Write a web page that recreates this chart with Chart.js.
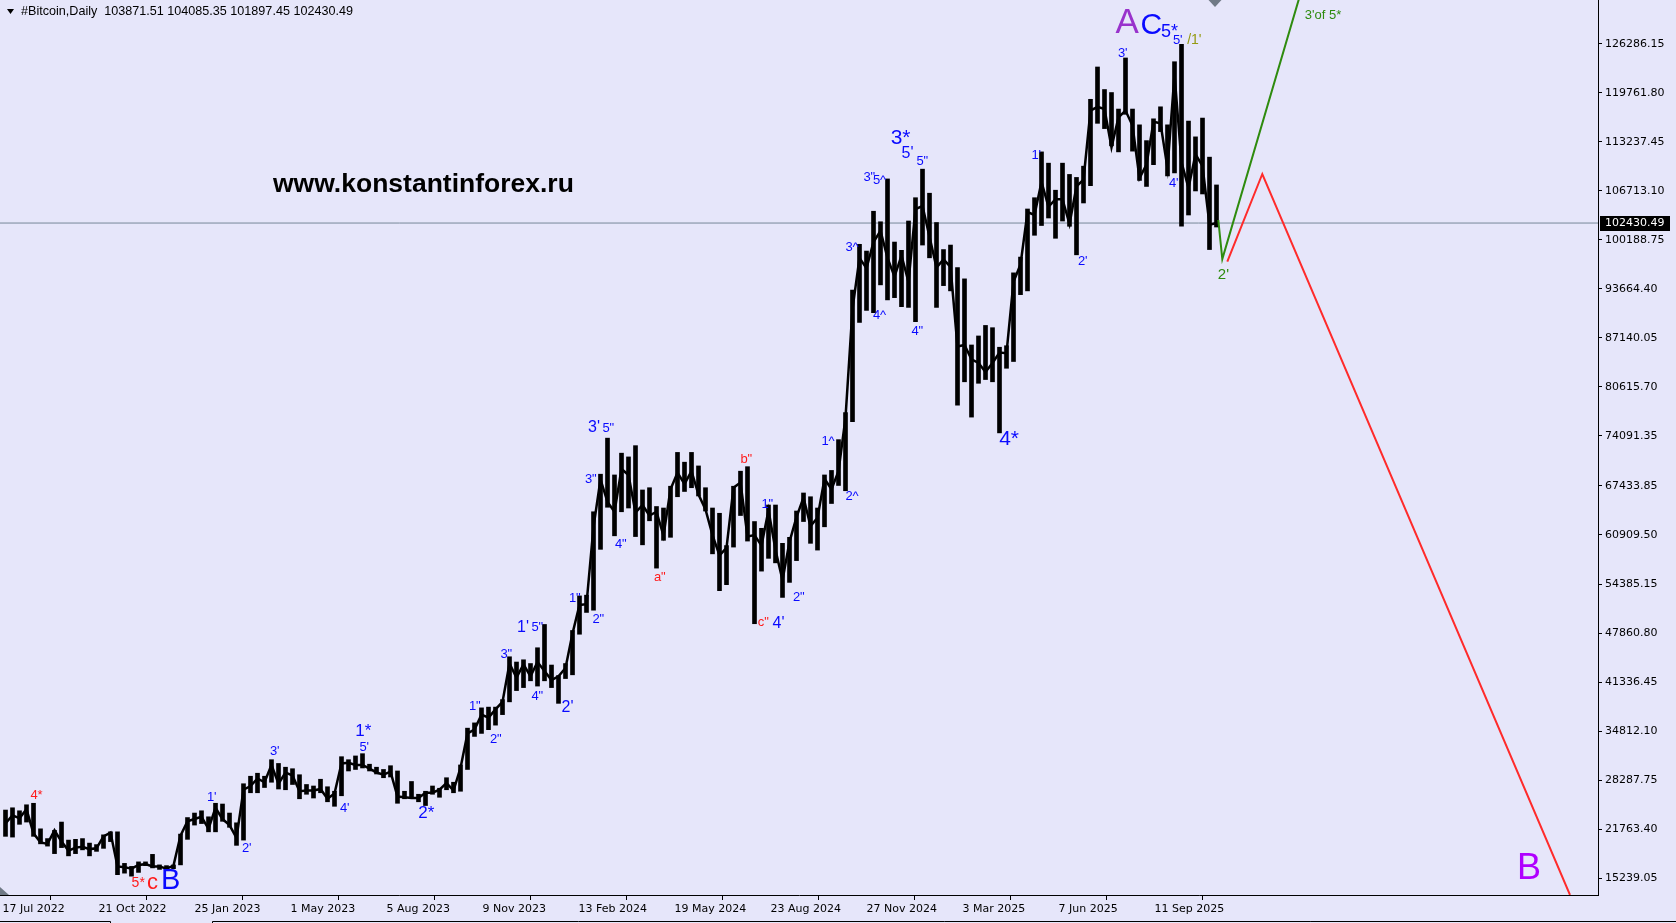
<!DOCTYPE html>
<html>
<head>
<meta charset="utf-8">
<script src="https://cdn.jsdelivr.net/npm/chart.js@4.4.1/dist/chart.umd.min.js"></script>
<style>
    html, body { margin: 0; padding: 0; background: #e6e6fa; overflow: hidden; }
    canvas { display: block; }
</style>
</head>
<body>
<canvas id="myChart" width="1676" height="923"></canvas>
<script>
// weekly ranges of the daily BTC bars, week 0 starts 17 Jul 2022 (day 0)
var weekLow = [
    20800, 20700, 22400, 22700, 20800, 19800, 19500, 18500, 19300, 18200,
    18500, 19000, 18200, 18800, 19200, 20100, 15700, 15900, 15500, 16000,
    16900, 16600, 16400, 16400, 16500, 17000, 20400, 22300, 22500, 21400,
    21400, 22800, 22000, 19600, 20300, 26600, 26600, 27300, 28000, 27100,
    27000, 27700, 25800, 26400, 25900, 26600, 25400, 24800, 26200, 29500,
    29700, 29900, 29500, 29100, 28600, 28700, 25200, 25800, 25900, 25400,
    24900, 26400, 26000, 27000, 26600, 26800, 29700, 34100, 34500, 35000,
    35600, 37000, 38700, 40200, 40600, 41500, 40800, 41500, 40600, 38500,
    41800, 42300, 47700, 50600, 50900, 59000, 64600, 60800, 64000, 64500,
    60700, 59600, 62800, 56500, 60200, 60600, 66000, 66700, 67200, 66100,
    64100, 58400, 53500, 54300, 59300, 63500, 60100, 49100, 56100, 57800,
    57200, 52600, 54600, 57500, 62700, 59800, 58900, 62000, 65100, 67500,
    66800, 76000, 89200, 90800, 90500, 94200, 92200, 92500, 91300, 91200,
    89300, 99500, 97800, 91200, 94100, 93400, 78200, 81300, 76600, 81100,
    81600, 81300, 74500, 83100, 84000, 92900, 93400, 100800, 102100, 103100,
    100400, 102700, 102000, 98200, 105100, 107400, 115700, 115000, 112700, 111900,
    116900, 112000, 108100, 107300, 110200, 114600, 108700, 109100, 102000, 103500,
    106700, 106300, 98900, 101900
];
var weekHigh = [
    24300, 24600, 24200, 25000, 25200, 21800, 20500, 21600, 22700, 20300,
    20400, 20500, 19900, 19700, 21000, 21400, 21400, 17200, 16800, 17400,
    17400, 18400, 17000, 16900, 17000, 21100, 23300, 23900, 24200, 23400,
    25200, 25100, 23900, 22600, 27800, 28800, 29200, 28800, 31000, 30500,
    30000, 29800, 29000, 27700, 27500, 28400, 27400, 26800, 31400, 31000,
    31500, 31800, 30400, 30000, 29700, 30200, 29500, 26800, 28100, 26400,
    26800, 27500, 27200, 28600, 28000, 30300, 35200, 35900, 37900, 38000,
    38000, 39000, 44700, 44000, 44300, 43800, 45900, 49000, 43600, 42200,
    43800, 48200, 52800, 52900, 64000, 69000, 73800, 68900, 71800, 71300,
    72800, 66900, 67200, 64700, 64500, 67400, 71900, 70600, 71900, 70100,
    67200, 64500, 63800, 59500, 67400, 69400, 70000, 62700, 61800, 64900,
    64900, 59800, 60600, 64100, 66500, 66000, 64500, 68900, 69500, 73600,
    77200, 93500, 99600, 98700, 104000, 102600, 108300, 99900, 98800, 102700,
    105800, 109600, 106400, 102500, 98900, 99500, 96500, 95000, 86200, 87400,
    88800, 88500, 85900, 86100, 95800, 97900, 104300, 105800, 111900, 110400,
    106800, 110400, 108900, 108500, 110000, 118900, 123200, 120200, 119800, 117600,
    124400, 117600, 115500, 113400, 116300, 117900, 115500, 123900, 126200, 116000,
    113900, 116400, 111200, 107500
];
var weekClose = [
    22500, 23600, 23200, 24400, 21200, 20000, 19800, 21600, 20100, 18900,
    19300, 19400, 19100, 19200, 20800, 21300, 16800, 16700, 16500, 17000,
    17100, 16800, 16800, 16500, 16900, 20900, 22800, 23100, 23400, 21800,
    24600, 23100, 22300, 20600, 27000, 27500, 28500, 28000, 30300, 27800,
    29300, 28900, 26800, 26900, 26900, 27100, 25800, 26500, 30500, 30600,
    30300, 30300, 29800, 29300, 29000, 29400, 26100, 26000, 25900, 25900,
    26600, 26600, 27000, 27900, 26900, 29900, 34500, 35000, 37000, 36600,
    37700, 38700, 43800, 41900, 43700, 42100, 44000, 42800, 41600, 42100,
    43200, 47800, 51600, 51700, 62000, 68300, 65300, 64000, 69700, 68900,
    63900, 64900, 63500, 64000, 60800, 67000, 69200, 67700, 69400, 66300,
    64300, 60900, 58200, 59200, 67200, 67900, 60700, 60900, 59500, 64200,
    58900, 54900, 60000, 63300, 65900, 62100, 63200, 68400, 67000, 69400,
    76500, 91000, 97800, 96400, 99900, 101400, 97800, 95300, 98100, 94600,
    104300, 104700, 100600, 96500, 97600, 96600, 86000, 86200, 84300, 83800,
    82600, 83800, 85200, 85100, 94600, 96900, 103900, 103500, 107900, 104600,
    105600, 105600, 102300, 107300, 108200, 117400, 117900, 117600, 112500, 116500,
    117400, 115400, 108400, 110200, 115900, 115700, 109700, 122200, 110500, 107100,
    111600, 110000, 102200, 102430
];

var dateLabels = ['17 Jul 2022', '21 Oct 2022', '25 Jan 2023', '1 May 2023', '5 Aug 2023',
    '9 Nov 2023', '13 Feb 2024', '19 May 2024', '23 Aug 2024', '27 Nov 2024',
    '3 Mar 2025', '7 Jun 2025', '11 Sep 2025'];
var priceTicks = [126286.15, 119761.80, 113237.45, 106713.10, 100188.75, 93664.40,
    87140.05, 80615.70, 74091.35, 67433.85, 60909.50, 54385.15, 47860.80,
    41336.45, 34812.10, 28287.75, 21763.40, 15239.05];
var lastPrice = 102430.49;
var lastDay = 1212;

// projected paths: [day, price]
var greenPath = [[1215.8, 102834], [1219.8, 97643], [1320, 142900]];
var redPath = [[1224.8, 97310], [1259.8, 108957], [1567.5, 13000]];

// wave marks
var labelTexts = ['4*', '5*', 'c', 'B', "1'", "2'", "3'", '1*', "5'", "4'",
    '2*', '1"', '2"', '3"', "1'", '5"', '4"', "2'", '1"', '2"',
    '3"', "3'", '5"', '4"', 'a"', 'b"', 'c"', "4'", '1"', '2"',
    '1^', '2^', '3^', '4^', '3"', '5^', '3*', "5'", '5"', '4"',
    '4*', "1'", "2'", "3'", "4'", 'A', 'C', '5*', "5'", "/1'",
    "2'", "3'of 5*", 'B'];
var labelDays = [34, 136, 150, 168.5, 209, 244, 272, 361.5, 361.5, 342,
    424, 472.5, 493.5, 504, 521, 535, 535, 565, 572.5, 596,
    588.5, 591.5, 606, 618.5, 657.5, 744, 761, 776, 765, 796.5,
    826, 850, 850, 877.5, 867, 877.5, 898, 905, 920, 915,
    1006.5, 1033.5, 1080, 1120, 1171, 1125, 1149, 1167, 1175, 1191.5,
    1221, 1320.5, 1527];
var labelPrices = [26400, 14760, 14550, 15120, 26080, 19290, 32160, 34950, 32730, 24610,
    24000, 38150, 33850, 45070, 48840, 48700, 39610, 38190, 52620, 49730,
    68450, 75460, 75240, 59710, 55450, 71120, 49370, 49290, 65130, 52700,
    73420, 66100, 99370, 90190, 108600, 108290, 113840, 111850, 110730, 88100,
    73780, 111490, 97510, 125100, 107800, 129360, 128920, 128120, 126890, 127020,
    95650, 130120, 16850];

var palette = { b: '#0a0aff', r: '#ff1a1a', p: '#9932cc', v: '#b000ff', g: '#2e8b0e', o: '#949a10' };
var labelStyles = ['r13', 'r14', 'r22', 'b29', 'b13', 'b13', 'b13', 'b17', 'b13', 'b13',
    'b17', 'b13', 'b13', 'b13', 'b16', 'b13', 'b13', 'b16', 'b13', 'b13',
    'b13', 'b16', 'b13', 'b13', 'r13', 'r13', 'r13', 'b16', 'b13', 'b13',
    'b13', 'b13', 'b13', 'b13', 'b13', 'b13', 'b21', 'b16', 'b13', 'b13',
    'b21', 'b13', 'b13', 'b13', 'b13', 'p35', 'b30', 'b18', 'b13', 'o14',
    'g15', 'g13', 'v36'];

var xMin = -2.5, xMax = 1595.5;
var yMax = 132116, yMin = 12992;

var dayOf = function (i) { return i * 7 + 3; };
var rangeData = weekLow.map(function (lo, i) { return { x: dayOf(i), y: [lo, weekHigh[i]] }; });
var closeData = weekClose.map(function (c, i) { return { x: dayOf(i), y: c }; });
var toPoints = function (path) { return path.map(function (p) { return { x: p[0], y: p[1] }; }); };

var backdrop = {
    id: 'backdrop',
    beforeDraw: function (chart) {
        var ctx = chart.ctx;
        ctx.save();
        ctx.fillStyle = '#e6e6fa';
        ctx.fillRect(0, 0, chart.width, chart.height);
        ctx.restore();
    }
};

function inkText(ctx, text, cx, cy) {
    var m = ctx.measureText(text);
    var x = cx - (m.actualBoundingBoxRight - m.actualBoundingBoxLeft) / 2;
    var y = cy + (m.actualBoundingBoxAscent - m.actualBoundingBoxDescent) / 2;
    ctx.fillText(text, x, y);
}

// fit a font size so the text spans the given width
function fitFont(ctx, text, weight, width) {
    ctx.font = weight + '20px "Liberation Sans", Arial, sans-serif';
    var fs = 20 * width / ctx.measureText(text).width;
    ctx.font = weight + fs.toFixed(2) + 'px "Liberation Sans", Arial, sans-serif';
}

var overlay = {
    id: 'overlay',
    afterDraw: function (chart) {
        var ctx = chart.ctx;
        var xs = chart.scales.x, ys = chart.scales.y;
        var area = chart.chartArea;
        ctx.save();
        ctx.textAlign = 'left';
        ctx.textBaseline = 'alphabetic';

        // wave labels
        labelTexts.forEach(function (t, i) {
            var st = labelStyles[i];
            ctx.fillStyle = palette[st[0]];
            ctx.font = st.slice(1) + 'px "Liberation Sans", Arial, sans-serif';
            inkText(ctx, t, xs.getPixelForValue(labelDays[i]), ys.getPixelForValue(labelPrices[i]));
        });

        // watermark
        var wm = 'www.konstantinforex.ru';
        fitFont(ctx, wm, 'bold ', 301);
        ctx.fillStyle = '#000';
        var wmm = ctx.measureText(wm);
        ctx.fillText(wm, 273, 182 + (wmm.actualBoundingBoxAscent - wmm.actualBoundingBoxDescent) / 2);

        // title
        ctx.fillStyle = '#000';
        ctx.beginPath();
        ctx.moveTo(7, 9); ctx.lineTo(14, 9); ctx.lineTo(10.5, 14); ctx.closePath();
        ctx.fill();
        var title = '#Bitcoin,Daily  103871.51 104085.35 101897.45 102430.49';
        fitFont(ctx, title, '', 332);
        ctx.textBaseline = 'middle';
        ctx.fillText(title, 21, 12);

        // last price box on the axis
        var py = Math.round(ys.getPixelForValue(lastPrice));
        ctx.fillStyle = '#000';
        ctx.fillRect(area.right + 2, py - 7, 70, 15);
        ctx.fillStyle = '#fff';
        ctx.font = '11px "DejaVu Sans", sans-serif';
        ctx.fillText(lastPrice.toFixed(2), area.right + 7, py + 0.5);

        // shift marker at the last bar and corner marker
        var sx = xs.getPixelForValue(lastDay);
        ctx.fillStyle = '#707a86';
        ctx.beginPath();
        ctx.moveTo(sx - 6, 0); ctx.lineTo(sx + 7, 0); ctx.lineTo(sx + 0.5, 7); ctx.closePath();
        ctx.fill();
        ctx.beginPath();
        ctx.moveTo(0, area.bottom - 8); ctx.lineTo(0, area.bottom); ctx.lineTo(9, area.bottom); ctx.closePath();
        ctx.fill();

        // tab strip line
        ctx.strokeStyle = '#000';
        ctx.lineWidth = 1;
        ctx.beginPath();
        ctx.moveTo(0, 921.5); ctx.lineTo(110.5, 921.5); ctx.lineTo(110.5, 923);
        ctx.moveTo(212.5, 923); ctx.lineTo(212.5, 921.5); ctx.lineTo(1676, 921.5);
        ctx.stroke();
        ctx.restore();
    }
};

var ctx = document.getElementById('myChart').getContext('2d');
var myChart = new Chart(ctx, {
    type: 'bar',
    data: {
        datasets: [
            {
                type: 'line',
                data: toPoints(greenPath),
                borderColor: '#2e8b0e',
                borderWidth: 2,
                pointRadius: 0,
                order: 1
            },
            {
                type: 'line',
                data: toPoints(redPath),
                borderColor: '#ff2b2b',
                borderWidth: 2,
                pointRadius: 0,
                order: 2
            },
            {
                type: 'line',
                data: closeData,
                borderColor: '#000',
                borderWidth: 2.5,
                pointRadius: 0,
                order: 3
            },
            {
                type: 'bar',
                data: rangeData,
                backgroundColor: '#000',
                borderWidth: 0,
                barThickness: 4,
                grouped: false,
                order: 4
            },
            {
                type: 'line',
                data: [{ x: xMin, y: lastPrice }, { x: xMax, y: lastPrice }],
                borderColor: '#778899',
                borderWidth: 1,
                pointRadius: 0,
                order: 5
            }
        ]
    },
    options: {
        responsive: false,
        devicePixelRatio: 1,
        animation: false,
        events: [],
        layout: { padding: 0 },
        plugins: { legend: { display: false }, tooltip: { enabled: false } },
        scales: {
            x: {
                type: 'linear',
                min: xMin,
                max: xMax,
                offset: false,
                afterBuildTicks: function (scale) {
                    scale.ticks = dateLabels.map(function (l, i) { return { value: i * 96 }; });
                },
                afterFit: function (scale) {
                    scale.height = 28;
                    scale.paddingLeft = 0;
                    scale.paddingRight = 0;
                },
                grid: { drawOnChartArea: false, drawTicks: true, tickLength: 5, color: '#000' },
                border: { display: true, color: '#000', width: 1 },
                ticks: {
                    autoSkip: false,
                    maxRotation: 0,
                    align: 'start',
                    padding: 3,
                    color: '#000',
                    font: { family: 'DejaVu Sans', size: 11 },
                    callback: function (v, i) { return dateLabels[i]; }
                }
            },
            y: {
                type: 'linear',
                position: 'right',
                min: yMin,
                max: yMax,
                afterBuildTicks: function (scale) {
                    scale.ticks = priceTicks.map(function (p) { return { value: p }; });
                },
                afterFit: function (scale) {
                    scale.width = 78;
                    scale.paddingTop = 0;
                    scale.paddingBottom = 0;
                },
                grid: { drawOnChartArea: false, drawTicks: true, tickLength: 4, color: '#000' },
                border: { display: true, color: '#000', width: 1 },
                ticks: {
                    padding: 3,
                    color: '#000',
                    font: { family: 'DejaVu Sans', size: 11 },
                    callback: function (v) { return Number(v).toFixed(2); }
                }
            }
        }
    },
    plugins: [backdrop, overlay]
});
</script>
</body>
</html>
